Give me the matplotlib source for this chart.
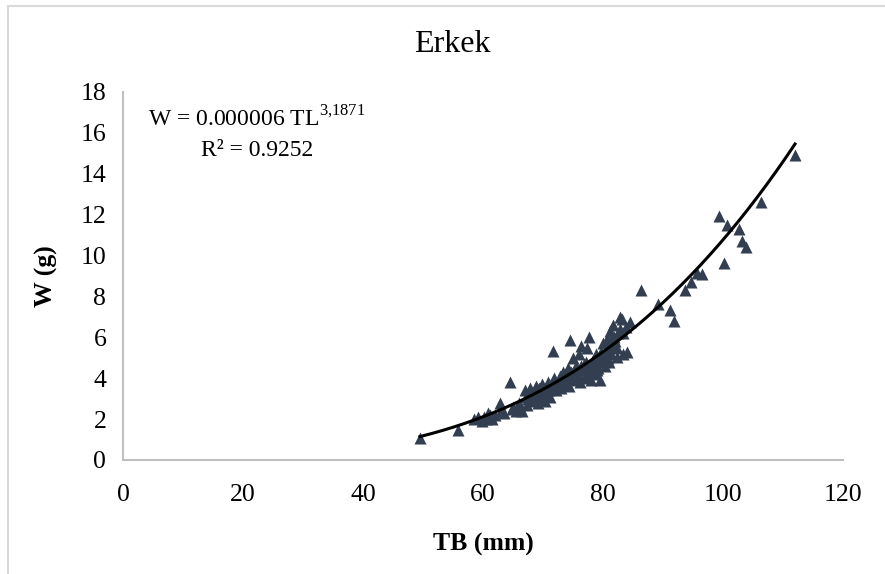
import numpy as np
import matplotlib.pyplot as plt
from matplotlib.patches import Rectangle

plt.rcParams['font.family'] = ['Liberation Serif', 'DejaVu Serif']
plt.rcParams['mathtext.fontset'] = 'custom'
plt.rcParams['mathtext.rm'] = 'Liberation Serif'

# total length (mm) and weight (g)
tb = [49.5, 55.9, 58.5, 59.2, 59.8, 60.5, 60.9, 61.5, 62.0, 62.8, 63.5, 64.5,
      64.8, 65.5, 66.2, 66.5, 67.0, 67.3, 67.8, 68.0, 68.5, 68.8, 69.2, 69.5,
      69.8, 70.0, 70.3, 70.6, 70.9, 71.2, 71.7, 71.5, 71.8, 72.2, 72.5, 72.8,
      73.0, 73.3, 73.6, 73.9, 74.2, 74.5, 74.4, 74.8, 75.0, 75.2, 75.5, 75.8,
      76.0, 76.2, 76.4, 76.6, 76.9, 77.1, 77.4, 77.6, 77.8, 78.0, 78.3, 78.6,
      78.9, 79.2, 79.5, 79.7, 80.0, 80.3, 80.6, 80.9, 81.2, 81.4, 81.7, 82.0,
      82.3, 82.5, 82.8, 83.1, 83.4, 83.8, 84.0, 84.5, 86.4, 89.1, 91.1, 91.9,
      93.7, 94.7, 95.7, 96.5, 99.3, 100.1, 100.7, 102.7, 103.1, 103.8, 106.4,
      112.0,
      60.2, 61.2, 63.0, 65.0, 66.0, 67.5, 68.2, 69.0, 70.2, 71.0, 71.4, 72.0,
      72.7, 73.5, 74.0, 74.7, 75.3, 75.7, 76.3, 76.8, 77.3, 77.9, 78.4, 79.0,
      79.4, 79.9, 80.4, 80.8, 81.0, 81.6, 81.9, 82.4, 82.9, 83.3, 67.2, 69.4,
      73.2, 76.1, 78.8, 81.3]
w = [1.1, 1.45, 2.0, 2.1, 1.9, 2.0, 2.3, 2.0, 2.2, 2.8, 2.3, 3.8,
     2.5, 2.4, 2.6, 2.4, 3.4, 2.7, 3.5, 2.9, 3.2, 3.6, 2.8, 3.0,
     3.7, 3.3, 2.9, 3.5, 3.8, 3.1, 5.35, 3.6, 4.0, 3.4, 3.8, 4.1,
     3.5, 4.3, 3.7, 4.0, 4.5, 5.85, 3.6, 4.2, 5.0, 3.9, 4.6, 4.1,
     5.2, 3.8, 5.6, 4.4, 4.0, 4.8, 5.5, 6.0, 4.3, 3.9, 4.7, 5.0,
     4.2, 4.5, 3.9, 5.3, 5.7, 4.6, 5.9, 5.0, 6.3, 5.2, 6.6, 5.8,
     5.05, 6.2, 7.0, 6.9, 5.2, 6.5, 5.3, 6.75, 8.3, 7.65, 7.35, 6.8,
     8.3, 8.7, 9.15, 9.1, 11.95, 9.65, 11.5, 11.3, 10.7, 10.4, 12.6,
     14.9,
     2.1, 2.2, 2.4, 2.6, 2.8, 3.0, 3.1, 3.3, 3.2, 3.4, 3.7, 3.6,
     3.9, 3.9, 4.1, 4.3, 4.4, 4.3, 4.6, 4.7, 4.1, 4.6, 4.9, 4.4,
     4.8, 5.0, 5.2, 5.5, 4.8, 5.6, 6.0, 5.5, 6.4, 6.2, 3.1, 3.5,
     4.0, 4.5, 5.2, 5.9]

# power trendline W = a * TB^b
a_fit = 4.55e-6
b_fit = 3.1871

xs = np.linspace(min(tb), max(tb), 200)
ys = a_fit * xs ** b_fit

fig = plt.figure(figsize=(8.85, 5.74), dpi=100)
ax = fig.add_axes([123/885, 1 - 460/574, 720/885, 368/574])

ax.scatter(tb, w, marker='^', s=75, color='#333F50', zorder=3, linewidths=0)
ax.plot(xs, ys, color='black', lw=2.2, zorder=4)

ax.set_xlim(0, 120)
ax.set_ylim(0, 18)
ax.set_xticks(range(0, 121, 20))
ax.set_yticks(range(0, 19, 2))
ax.tick_params(axis='both', length=0, labelsize=18.5)
ax.tick_params(axis='x', pad=17)
ax.tick_params(axis='y', pad=12)
for s in ['top', 'right']:
    ax.spines[s].set_visible(False)
for s in ['left', 'bottom']:
    ax.spines[s].set_color('#BFBFBF')
    ax.spines[s].set_linewidth(1.5)

ax.set_xlabel('TB (mm)', fontsize=18.5, fontweight='bold', labelpad=20)
ax.set_ylabel('W (g)', fontsize=18.5, fontweight='bold', labelpad=16)

fig.text(452/885, 1 - 44/574, 'Erkek', fontsize=23, ha='center', va='center')

ax.text(257/885, 1 - 119/574, 'W = 0.000006 TL$^{3{,}1871}$', transform=fig.transFigure,
        fontsize=17, ha='center', va='center')
ax.text(257/885, 1 - 150/574, 'R² = 0.9252', transform=fig.transFigure,
        fontsize=17, ha='center', va='center')

# outer chart border
fig.patches.append(Rectangle((8/885, -0.1), 1.2, 1.1 - 6/574, transform=fig.transFigure,
                             fill=False, edgecolor='#D9D9D9', lw=1.5))

fig.savefig('out.png', dpi=100)
